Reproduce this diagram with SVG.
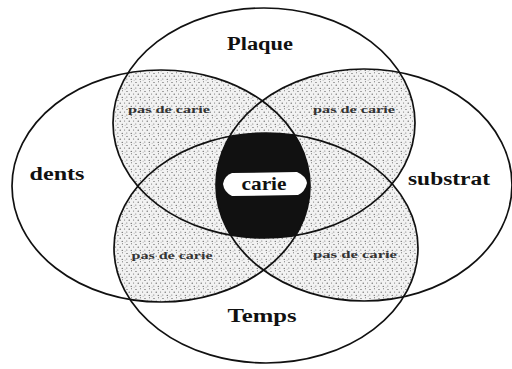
<svg xmlns="http://www.w3.org/2000/svg" width="512" height="369" viewBox="0 0 512 369">
<style>
.outline{fill:none;stroke:#111;stroke-width:1.7}
.big{font-family:"Liberation Serif","Times New Roman",serif;font-weight:bold;fill:#111}
.small{font-family:"Liberation Serif","Times New Roman",serif;font-size:10px;font-weight:bold;fill:#333}
.stip{fill:url(#stipple)}
</style>
<defs>
<pattern id="stipple" width="9" height="9" patternUnits="userSpaceOnUse">
<rect width="9" height="9" fill="#f2f2f2"/>
<circle cx="1" cy="1.5" r="0.6" fill="#444"/>
<circle cx="5.5" cy="0.8" r="0.5" fill="#555"/>
<circle cx="3.2" cy="4.2" r="0.6" fill="#444"/>
<circle cx="7.6" cy="3.9" r="0.5" fill="#555"/>
<circle cx="0.8" cy="6.9" r="0.5" fill="#555"/>
<circle cx="5.2" cy="7.3" r="0.6" fill="#444"/>
<circle cx="8.1" cy="8.2" r="0.4" fill="#666"/>
</pattern>
<ellipse id="eP" cx="264" cy="123" rx="151" ry="115"/>
<ellipse id="eT" cx="266" cy="248" rx="152" ry="115"/>
<ellipse id="eD" cx="161" cy="186" rx="149" ry="116"/>
<ellipse id="eS" cx="364" cy="185" rx="148" ry="116"/>
<clipPath id="cP"><use href="#eP"/></clipPath>
<clipPath id="cT"><use href="#eT"/></clipPath>
<clipPath id="cD"><use href="#eD"/></clipPath>
<clipPath id="cS"><use href="#eS"/></clipPath>
</defs>
<rect width="512" height="369" fill="#fff"/>
<g id="overlaps">
<use href="#eP" class="stip" clip-path="url(#cD)"/>
<use href="#eP" class="stip" clip-path="url(#cS)"/>
<use href="#eP" class="stip" clip-path="url(#cT)"/>
<use href="#eT" class="stip" clip-path="url(#cD)"/>
<use href="#eT" class="stip" clip-path="url(#cS)"/>
<use href="#eD" class="stip" clip-path="url(#cS)"/>
</g>
<g id="carie">
<g clip-path="url(#cP)"><g clip-path="url(#cT)"><g clip-path="url(#cD)">
<use href="#eS" fill="#111"/>
</g></g></g>
<path d="M223,184 Q224,176 232,173 L297,172 Q306,176 307,183 Q305,192 298,195 L232,196 Q224,192 223,184 Z" fill="#fff"/>
<text class="big" x="264" y="190" font-size="19" text-anchor="middle" textLength="45" lengthAdjust="spacingAndGlyphs">carie</text>
</g>
<g id="plaque"><use href="#eP" class="outline"/>
<text class="big" x="260" y="50" font-size="18" text-anchor="middle" textLength="66" lengthAdjust="spacingAndGlyphs">Plaque</text></g>
<g id="temps"><use href="#eT" class="outline"/>
<text class="big" x="262" y="322" font-size="18" text-anchor="middle" textLength="69" lengthAdjust="spacingAndGlyphs">Temps</text></g>
<g id="dents"><use href="#eD" class="outline"/>
<text class="big" x="57" y="180" font-size="19" text-anchor="middle" textLength="55" lengthAdjust="spacingAndGlyphs">dents</text></g>
<g id="substrat"><use href="#eS" class="outline"/>
<text class="big" x="449" y="185" font-size="18" text-anchor="middle" textLength="82" lengthAdjust="spacingAndGlyphs">substrat</text></g>
<g id="pas-de-carie">
<text class="small" x="169" y="113" text-anchor="middle" textLength="82" lengthAdjust="spacingAndGlyphs">pas de carie</text>
<text class="small" x="354" y="113" text-anchor="middle" textLength="82" lengthAdjust="spacingAndGlyphs">pas de carie</text>
<text class="small" x="172" y="259" text-anchor="middle" textLength="81" lengthAdjust="spacingAndGlyphs">pas de carie</text>
<text class="small" x="355" y="258" text-anchor="middle" textLength="84" lengthAdjust="spacingAndGlyphs">pas de carie</text>
</g>
</svg>
